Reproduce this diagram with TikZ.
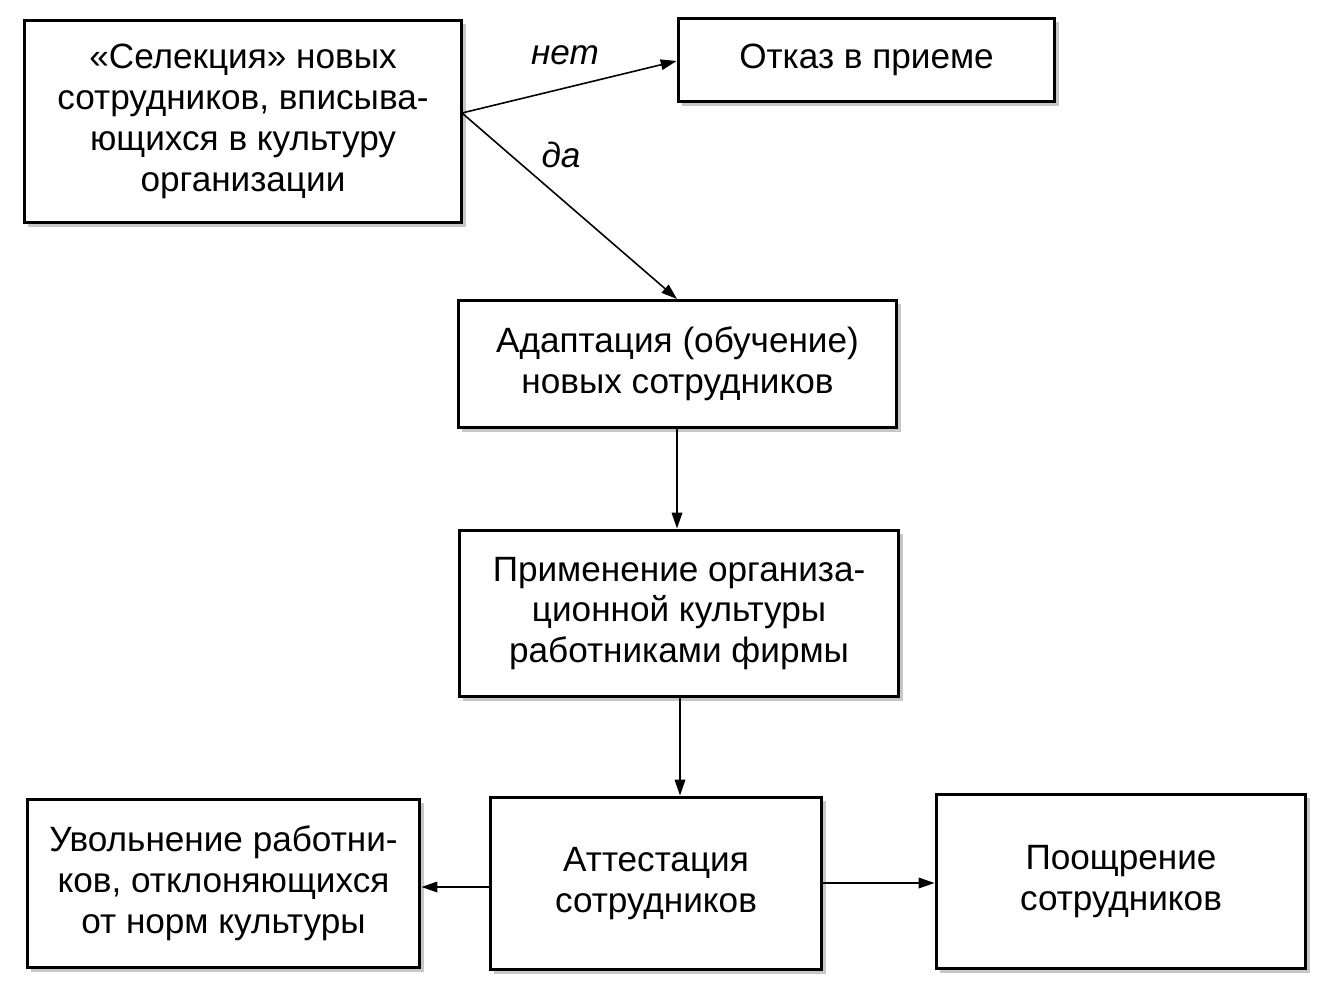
\documentclass[tikz,border=0pt]{standalone}
\usepackage{fontspec}
\setmainfont{Liberation Sans}
\usetikzlibrary{arrows.meta,shadows}
\begin{document}
\begin{tikzpicture}[x=0.02cm,y=-0.02cm,
  box/.style={draw, line width=1.7pt, fill=white, align=center, inner sep=0pt,
    font=\fontsize{20}{23.3}\selectfont,
    drop shadow={shadow xshift=2.5pt, shadow yshift=-2.5pt, fill=black!22, opacity=1}},
  conn/.style={line width=0.9pt, -{Triangle[length=9pt,width=6pt]}},
  lbl/.style={font=\fontsize{20}{23.3}\selectfont\itshape}]
\useasboundingbox (0,0) rectangle (1336,997);
\node[box, minimum width=8.76cm, minimum height=4.06cm] (sel) at (243,121.5)
  {«Селекция» новых\\сотрудников, вписыва-\\ющихся в культуру\\организации};
\node[box, minimum width=7.54cm, minimum height=1.68cm] (otk) at (866.5,60)
  {Отказ в приеме};
\node[box, minimum width=8.78cm, minimum height=2.56cm] (adp) at (677.5,364)
  {Адаптация (обучение)\\новых сотрудников};
\node[box, minimum width=8.8cm, minimum height=3.34cm] (prm) at (679,613.5)
  {Применение организа-\\ционной культуры\\работниками фирмы};
\node[box, minimum width=6.64cm, minimum height=3.46cm] (att) at (656,883.5)
  {Аттестация\\сотрудников};
\node[box, minimum width=7.86cm, minimum height=3.38cm] (uvl) at (223.5,883.5)
  {Увольнение работни-\\ков, отклоняющихся\\от норм культуры};
\node[box, minimum width=7.4cm, minimum height=3.5cm] (poo) at (1121,881.5)
  {Поощрение\\сотрудников};
\coordinate (s) at (462,113);
\draw[conn] (s) -- (otk.west |- 0,61);
\draw[conn] (s) -- (677,299);
\node[lbl] (net) at (565,55) {нет};
\node[lbl] (da) at (561,155) {да};
\draw[conn] (adp.south -| 677,0) -- (prm.north -| 677,0);
\draw[conn] (prm.south -| 680,0) -- (att.north -| 680,0);
\draw[conn] (att.west |- 0,887) -- (uvl.east |- 0,887);
\draw[conn] (att.east |- 0,883) -- (poo.west |- 0,883);
\end{tikzpicture}
\end{document}
